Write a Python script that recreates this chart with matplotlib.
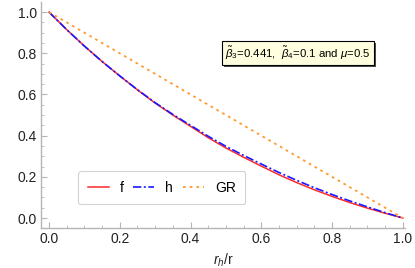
#!/usr/bin/env python3
"""Metric functions f, h against the GR line, plotted over r_h/r."""

import matplotlib
matplotlib.use('Agg')
import matplotlib.pyplot as plt
import matplotlib.patheffects as pe
from matplotlib.ticker import MultipleLocator

x_vals = [0.0, 0.05, 0.1, 0.15, 0.2, 0.25, 0.3, 0.35, 0.4, 0.45, 0.5,
          0.55, 0.6, 0.65, 0.7, 0.75, 0.8, 0.85, 0.9, 0.95, 1.0]
f_vals = [1.0, 0.915, 0.835, 0.76, 0.69, 0.622, 0.558, 0.50, 0.445, 0.39, 0.34,
          0.295, 0.252, 0.21, 0.172, 0.137, 0.105, 0.075, 0.048, 0.023, 0.0]
h_vals = [1.0, 0.915, 0.835, 0.76, 0.69, 0.623, 0.56, 0.503, 0.45, 0.397, 0.348,
          0.304, 0.262, 0.221, 0.183, 0.147, 0.114, 0.083, 0.054, 0.026, 0.0]
gr_x = [0.0, 1.0]
gr_vals = [1.0, 0.0]
tick_vals = [0.0, 0.2, 0.4, 0.6, 0.8, 1.0]

plt.rcParams['font.family'] = ['Liberation Sans', 'DejaVu Sans']
plt.rcParams['mathtext.fontset'] = 'custom'
plt.rcParams['mathtext.rm'] = 'Liberation Sans'
plt.rcParams['mathtext.it'] = 'Liberation Sans:italic'

axis_grey = '#b5b5b5'
fig = plt.figure(figsize=(4.15, 2.68), dpi=100)
ax = fig.add_axes([41 / 415, 40 / 268, 364 / 415, 226 / 268])

ax.plot(x_vals, f_vals, color='#ff2a2a', lw=1.1, label='f')
ax.plot(x_vals, h_vals, color='#1a1aff', lw=1.2, ls=(0, (5, 1.5, 1.2, 1.5)), label='h')
ax.plot(gr_x, gr_vals, color='#ff9a2e', lw=1.3, ls=(0, (1.5, 2.2)), label='GR')

ax.set_xlim(-0.0226, 1.006)
ax.set_ylim(-0.0485, 1.049)
ax.set_xticks(tick_vals)
ax.set_yticks(tick_vals)
ax.xaxis.set_minor_locator(MultipleLocator(0.05))
ax.yaxis.set_minor_locator(MultipleLocator(0.05))
ax.tick_params(which='both', direction='in', color=axis_grey, labelsize=10,
               labelcolor='#222222', pad=3)
ax.tick_params(which='major', length=4, width=0.8)
ax.tick_params(which='minor', length=2.3, width=0.6)
for side in ('top', 'right'):
    ax.spines[side].set_visible(False)
for side in ('left', 'bottom'):
    ax.spines[side].set_color(axis_grey)
    ax.spines[side].set_linewidth(1.0)

ax.set_xlabel('$r_h$/r', fontsize=10, color='#222222', labelpad=4)

leg = ax.legend(loc='upper left', bbox_to_anchor=(37 / 364, (228 - 171) / 226),
                ncol=3, fontsize=10, frameon=True, fancybox=True,
                handlelength=1.5, handletextpad=0.8, columnspacing=0.7,
                borderpad=0.7, borderaxespad=0)
leg.get_frame().set_edgecolor('#c8c8c8')
leg.get_frame().set_linewidth(0.8)

txt = ax.text(0.706, 0.774, r'$\tilde{\beta}_3$=0.441,  $\tilde{\beta}_4$=0.1 and $\mu$=0.5',
              transform=ax.transAxes, ha='center', va='center', fontsize=8.2,
              bbox=dict(boxstyle='square,pad=0.32', facecolor='#ffffe0',
                        edgecolor='black', linewidth=0.8))
txt.get_bbox_patch().set_path_effects([
    pe.SimplePatchShadow(offset=(1.5, -1.5), shadow_rgbFace='black', alpha=0.7),
    pe.Normal(),
])

fig.savefig('out.png', dpi=100)
